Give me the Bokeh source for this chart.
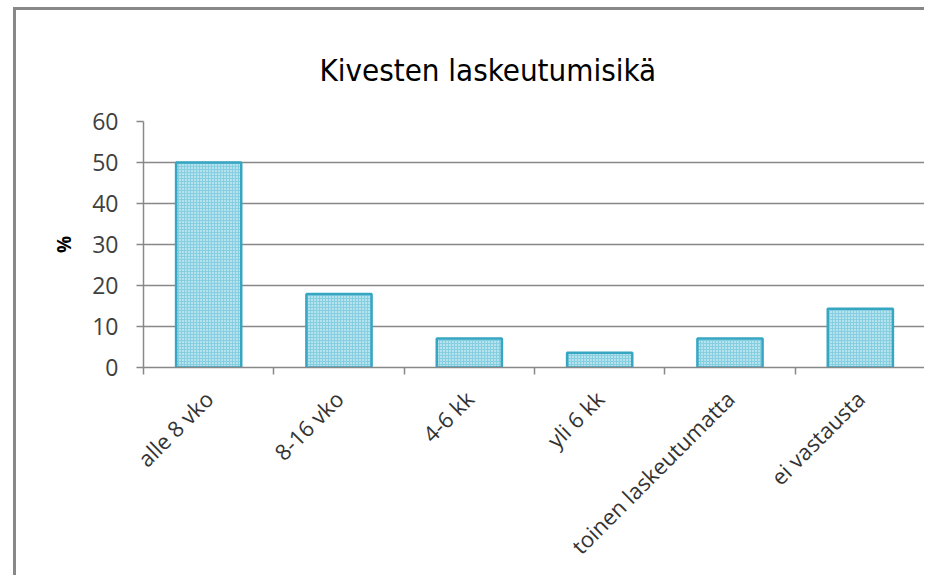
import math
from bokeh.plotting import figure
from bokeh.models import Range1d, FixedTicker, ColumnDataSource, Title
from bokeh.embed import file_html
from bokeh.resources import INLINE

categories = ["alle 8 vko", "8-16 vko", "4-6 kk", "yli 6 kk", "toinen laskeutumatta", "ei vastausta"]
percent = [50.0, 17.9, 7.1, 3.6, 7.1, 14.3]
y_ticks = [0, 10, 20, 30, 40, 50, 60]
title_text = "Kivesten laskeutumisikä"

xpos = [i + 0.5 for i in range(len(categories))]
source = ColumnDataSource(dict(x=xpos, top=percent, cat=categories))

W, H = 911, 568
p = figure(width=W, height=H, output_backend="svg", toolbar_location=None,
           x_range=Range1d(0, len(categories)), y_range=Range1d(0, 60),
           min_border_left=127, min_border_right=2, min_border_top=111, min_border_bottom=211)
p.styles = {"border-top": "3px solid #888888", "border-left": "3px solid #888888",
            "margin-left": "13px", "margin-top": "7px"}
p.outline_line_color = None
p.background_fill_color = "white"

p.vbar(x="x", top="top", width=0.5, source=source,
       fill_color="#86cfe1", line_color="#36a6c3", line_width=2.5,
       hatch_pattern="dot", hatch_color="white", hatch_scale=3, hatch_weight=1)

t = Title(text=title_text, align="left", offset=176, standoff=68,
          text_font="DejaVu Sans Condensed", text_font_size="31px",
          text_font_style="normal", text_color="black")
p.add_layout(t, "above")

# y axis
p.yaxis.ticker = FixedTicker(ticks=y_ticks)
p.yaxis.axis_line_color = "#888888"
p.yaxis.axis_line_width = 1.5
p.yaxis.major_tick_line_color = "#888888"
p.yaxis.major_tick_line_width = 1.5
p.yaxis.major_tick_out = 7
p.yaxis.major_tick_in = 0
p.yaxis.minor_tick_line_color = None
p.yaxis.major_label_text_font = "Open Sans"
p.yaxis.major_label_text_font_size = "23px"
p.yaxis.major_label_text_color = "#404040"
p.yaxis.major_label_standoff = 18
p.yaxis.axis_label = "%"
p.yaxis.axis_label_text_font = "Open Sans"
p.yaxis.axis_label_text_font_style = "bold"
p.yaxis.axis_label_text_font_size = "19px"
p.yaxis.axis_label_text_color = "black"
p.yaxis.axis_label_standoff = 12

# x axis: labels at centers, ticks at boundaries
p.xaxis.ticker = FixedTicker(ticks=xpos, minor_ticks=list(range(len(categories) + 1)))
p.xaxis.major_label_overrides = {x: c for x, c in zip(xpos, categories)}
p.xaxis.major_tick_line_color = None
p.xaxis.minor_tick_line_color = "#888888"
p.xaxis.minor_tick_line_width = 1.5
p.xaxis.minor_tick_out = 7
p.xaxis.minor_tick_in = 0
p.xaxis.axis_line_color = "#888888"
p.xaxis.axis_line_width = 1.5
p.xaxis.major_label_orientation = math.pi / 4
p.xaxis.major_label_text_font = "Open Sans"
p.xaxis.major_label_text_font_size = "22px"
p.xaxis.major_label_text_color = "#333333"
p.xaxis.major_label_standoff = 20

p.xgrid.grid_line_color = None
p.ygrid.ticker = FixedTicker(ticks=y_ticks)
p.ygrid.grid_line_color = "#888888"
p.ygrid.grid_line_width = 1.5

open("out.html", "w").write(file_html(p, INLINE))
